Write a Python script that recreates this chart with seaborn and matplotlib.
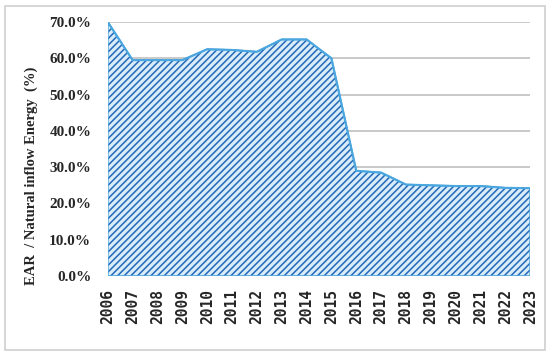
import matplotlib
matplotlib.use("Agg")
import numpy as np
import pandas as pd
import seaborn as sns
from matplotlib import pyplot as plt
from matplotlib.patches import Rectangle

years = list(range(2006, 2024))
ear_pct = [70.0, 59.5, 59.5, 59.5, 62.5, 62.3, 61.8, 65.2, 65.2, 60.0,
           29.0, 28.5, 25.2, 25.0, 24.8, 24.8, 24.3, 24.2]
yticks = [0, 10, 20, 30, 40, 50, 60, 70]

df = pd.DataFrame({"year": years, "ear": ear_pct})

sns.set_style("white")
plt.rcParams["font.family"] = ["Liberation Serif", "DejaVu Serif"]
plt.rcParams["font.weight"] = "bold"
plt.rcParams["hatch.linewidth"] = 1.1

fig = plt.figure(figsize=(5.5, 3.55), dpi=100)
ax = fig.add_axes([0.196, 0.2225, 0.768, 0.7155])

# gridlines
for t in yticks:
    ax.axhline(t, color="#c0c0c0", lw=1.2, zorder=0)

# hatched area
ax.fill_between(df["year"], 0, df["ear"], facecolor="#d8ecf9",
                edgecolor="#2468b8", hatch="/////", lw=0, zorder=2)
ax.fill_between(df["year"], 0, df["ear"], facecolor="none",
                edgecolor="#4aa6de", lw=1.2, zorder=3)
sns.lineplot(data=df, x="year", y="ear", color="#4aa6de", lw=1.5, ax=ax, zorder=4)

ax.set_xlim(2006, 2023)
ax.set_ylim(0, 70)
ax.set_yticks(yticks)
ax.set_yticklabels([f"{t:.1f}%" for t in yticks], fontsize=11, fontweight="bold")
ax.set_xticks(years)
ax.set_xticklabels([str(y) for y in years], rotation=90, fontsize=10.5,
                   fontweight="bold", fontfamily="DejaVu Sans Mono")
ax.tick_params(axis="y", length=0, pad=12)
ax.tick_params(axis="x", length=0, pad=9)
for s in ax.spines.values():
    s.set_visible(False)
ax.set_xlabel("")
ax.set_ylabel("EAR  / Natural inflow Energy  (%)", fontsize=10.5, fontweight="bold")
ax.yaxis.set_label_coords(-0.165, 0.394)

fig.patches.append(Rectangle((5 / 550, 5 / 355), 540 / 550, 344 / 355, transform=fig.transFigure,
                             fill=False, edgecolor="#d0d0d0", lw=1.2))

fig.savefig("out.png", dpi=100)
